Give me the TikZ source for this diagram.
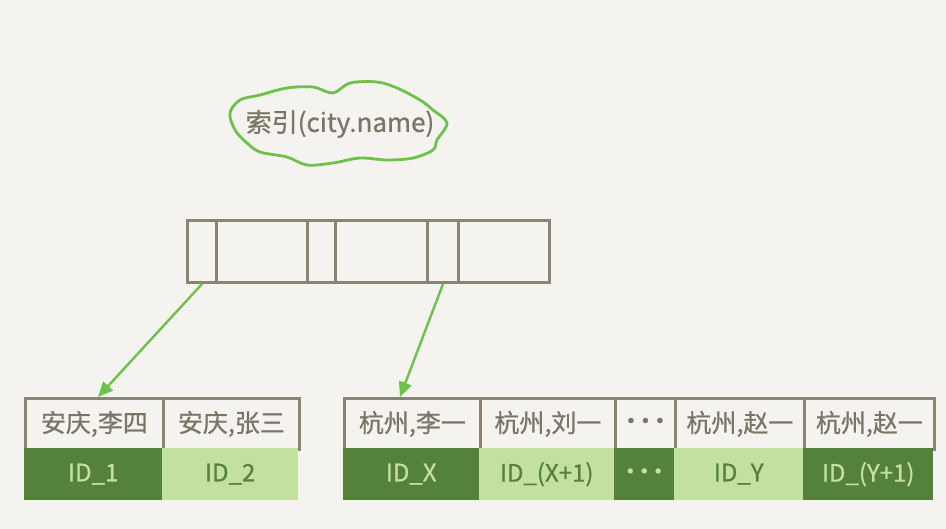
\documentclass[tikz,border=0pt]{standalone}
\usepackage{fontspec}
\setmainfont{Noto Sans CJK SC}
\newfontfamily\handfont{Noto Sans CJK SC}[FakeBold=0.7]
\usetikzlibrary{arrows.meta}
\definecolor{paper}{HTML}{F4F3EF}
\definecolor{frame}{HTML}{8A8472}
\definecolor{ink}{HTML}{7B7566}
\definecolor{leafdark}{HTML}{55823B}
\definecolor{leaflight}{HTML}{C4E09E}
\definecolor{linkgreen}{HTML}{6CC24A}
% three close-set dots for the elided cells
\newcommand{\elide}{·\kern-0.42em·\kern-0.42em·}
\begin{document}
\begin{tikzpicture}[x=1pt,y=-1pt,
  rootcell/.style={draw=frame, line width=3pt, fill=paper, minimum height=62pt,
    inner sep=0pt, anchor=north west},
  keycell/.style={draw=frame, line width=2.8pt, fill=paper, minimum height=51pt,
    inner sep=0pt, anchor=north west, text=ink, font=\handfont\fontsize{25}{25}\selectfont},
  darkid/.style={fill=leafdark, minimum height=52pt, inner sep=0pt, anchor=north west,
    text=leaflight, font=\handfont\fontsize{24}{24}\selectfont},
  lightid/.style={fill=leaflight, minimum height=52pt, inner sep=0pt, anchor=north west,
    text=leafdark, font=\handfont\fontsize{24}{24}\selectfont},
  link/.style={draw=linkgreen, line width=2.4pt,
    -{Triangle[length=15pt,width=13pt,fill=linkgreen]}}
]
% canvas
\fill[paper] (0,0) rectangle (946,529);
\useasboundingbox (0,0) rectangle (946,529);

% index label in a cloud outline
\draw[linkgreen, line width=2.8pt, fill=paper] plot[smooth cycle, tension=0.55] coordinates {
  (230,113) (240,100) (260,95) (287,88) (313,87) (333,93) (350,83) (377,82)
  (397,88) (420,100) (433,110) (447,123) (437,140) (433,150) (413,158) (387,160)
  (360,158) (333,163) (307,165) (287,157) (260,152) (247,143) (235,130)};
\node[text=ink, font=\handfont\fontsize{26}{26}\selectfont] (idx) at (340,124) {索引(city.name)};

% root page of the index
\node[rootcell, minimum width=29pt] (r1) at (186,219) {};
\node[rootcell, minimum width=91pt] (r2) at (215,219) {};
\node[rootcell, minimum width=28pt] (r3) at (306,219) {};
\node[rootcell, minimum width=92pt] (r4) at (334,219) {};
\node[rootcell, minimum width=31pt] (r5) at (426,219) {};
\node[rootcell, minimum width=91pt] (r6) at (457,219) {};

% left leaf page
\node[keycell, minimum width=138pt] (a1) at (24,397) {安庆,李四};
\node[keycell, minimum width=136pt] (a2) at (162,397) {安庆,张三};
\node[darkid, minimum width=138pt] (b1) at (24,448) {ID\_1};
\node[lightid, minimum width=136pt] (b2) at (162,448) {ID\_2};

% right leaf page
\node[keycell, minimum width=136pt] (c1) at (343,397) {杭州,李一};
\node[keycell, minimum width=135pt] (c2) at (479,397) {杭州,刘一};
\node[keycell, minimum width=60pt]  (c3) at (614,397) {\elide};
\node[keycell, minimum width=129pt] (c4) at (674,397) {杭州,赵一};
\node[keycell, minimum width=130pt] (c5) at (803,397) {杭州,赵一};
\node[darkid, minimum width=136pt]  (d1) at (343,448) {ID\_X};
\node[lightid, minimum width=135pt] (d2) at (479,448) {ID\_(X+1)};
\node[darkid, minimum width=60pt]   (d3) at (614,448) {\elide};
\node[lightid, minimum width=129pt] (d4) at (674,448) {ID\_Y};
\node[darkid, minimum width=130pt]  (d5) at (803,448) {ID\_(Y+1)};

% pointers from the root to the leaves
\draw[link] (r1.south) -- ([xshift=74pt]a1.north west);
\draw[link] (r5.south) -- ([xshift=57pt]c1.north west);
\end{tikzpicture}
\end{document}
